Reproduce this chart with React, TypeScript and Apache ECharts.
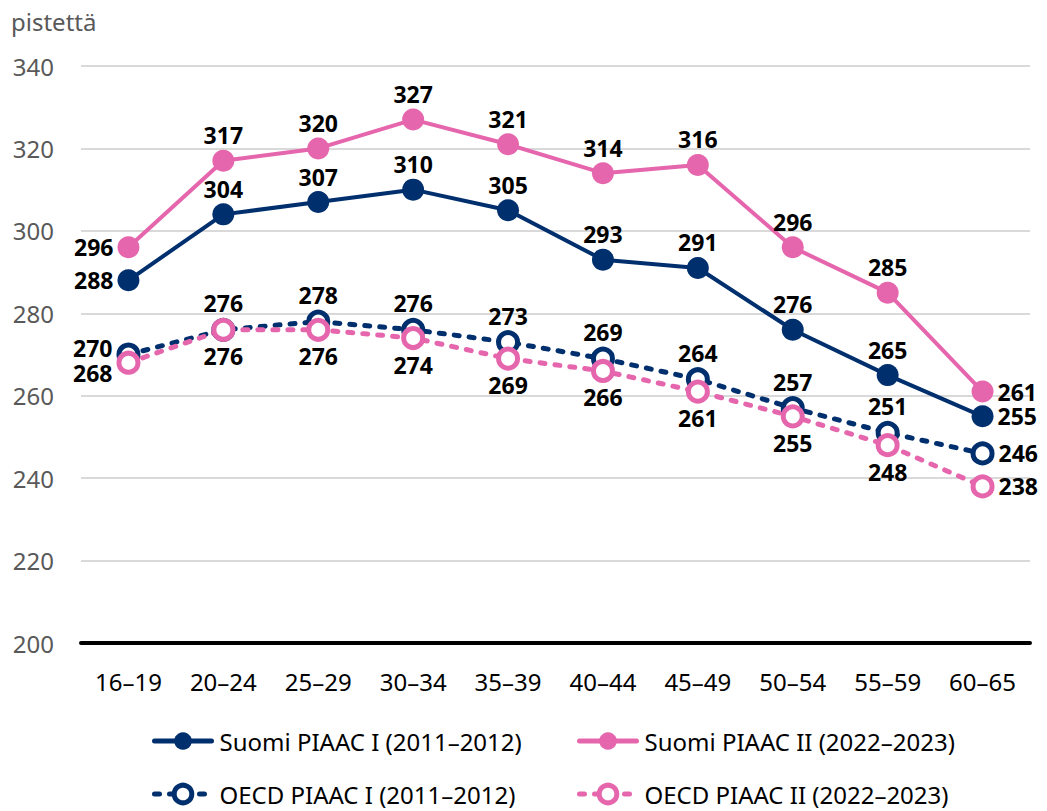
import React, { useEffect, useRef } from "react";
import * as echarts from "echarts";

const categories = ["16–19", "20–24", "25–29", "30–34", "35–39", "40–44", "45–49", "50–54", "55–59", "60–65"];
const suomiI = [288, 304, 307, 310, 305, 293, 291, 276, 265, 255];
const suomiII = [296, 317, 320, 327, 321, 314, 316, 296, 285, 261];
const oecdI = [270, 276, 278, 276, 273, 269, 264, 257, 251, 246];
const oecdII = [268, 276, 276, 274, 269, 266, 261, 255, 248, 238];
const seriesNames = [
  "Suomi PIAAC I (2011–2012)",
  "Suomi PIAAC II (2022–2023)",
  "OECD PIAAC I (2011–2012)",
  "OECD PIAAC II (2022–2023)",
];
const yTicks = { min: 200, max: 340, interval: 20 };

const NAVY = "#002f6e";
const PINK = "#e566ac";
const FONT = "'Noto Sans', 'Open Sans', sans-serif";
const DASH = [5, 10];

function makeData(values: number[], midPos: string, firstDy: number) {
  return values.map((v, i) => {
    const pos = i === 0 ? "left" : i === values.length - 1 ? "right" : midPos;
    return {
      value: v,
      label: i === 0 ? { position: pos, offset: [0, firstDy] } : { position: pos },
    };
  });
}

function makeSeries(name: string, values: number[], color: string, dashed: boolean, midPos: string, firstDy: number) {
  return {
    name,
    type: "line",
    data: makeData(values, midPos, firstDy),
    symbol: "circle",
    symbolSize: dashed ? 19 : 22,
    showAllSymbol: true,
    lineStyle: dashed
      ? { color, width: 5, type: DASH, cap: "round" }
      : { color, width: 4 },
    itemStyle: dashed
      ? { color: "#ffffff", borderColor: color, borderWidth: 5 }
      : { color, borderWidth: 0 },
    label: {
      show: true,
      distance: 4,
      color: "#000",
      fontFamily: FONT,
      fontWeight: "bold",
      fontSize: 23,
      lineHeight: 21,
    },
    emphasis: { disabled: true },
  };
}

function legendAt(name: string, left: number, top: number, color: string, dashed: boolean) {
  return {
    data: [name],
    left,
    top,
    padding: 0,
    orient: "horizontal",
    itemWidth: 57,
    itemHeight: 22,
    selectedMode: false,
    lineStyle: dashed
      ? { color, width: 5, type: DASH, cap: "round" }
      : { color, width: 5, cap: "round" },
    itemStyle: dashed
      ? { color: "#ffffff", borderColor: color, borderWidth: 5 }
      : { color, borderWidth: 0 },
    textStyle: {
      fontFamily: FONT,
      fontSize: 24,
      lineHeight: 24,
      color: "#000",
      padding: [0, 0, 0, 3],
    },
  };
}

export default function App() {
  const ref = useRef<HTMLDivElement>(null);
  useEffect(() => {
    document.body.style.margin = "0";
    if (!ref.current) return;
    const chart = echarts.init(ref.current, null, { renderer: "svg" });
    chart.setOption({
      animation: false,
      backgroundColor: "#fff",
      grid: { left: 81, right: 17, top: 66, bottom: 168, containLabel: false },
      graphic: [
        {
          type: "text",
          left: 11,
          top: 9,
          style: { text: "pistettä", fontFamily: FONT, fontSize: 24, fill: "#595959" },
        },
      ],
      legend: [
        legendAt(seriesNames[0], 152, 729, NAVY, false),
        legendAt(seriesNames[1], 577, 729, PINK, false),
        legendAt(seriesNames[2], 152, 782, NAVY, true),
        legendAt(seriesNames[3], 577, 782, PINK, true),
      ],
      xAxis: {
        type: "category",
        data: categories,
        boundaryGap: true,
        axisLine: { show: true, lineStyle: { color: "#000", width: 4 } },
        axisTick: { show: false },
        axisLabel: { color: "#000", fontFamily: FONT, fontSize: 24, margin: 26 },
      },
      yAxis: {
        type: "value",
        min: yTicks.min,
        max: yTicks.max,
        interval: yTicks.interval,
        axisLine: { show: false },
        axisTick: { show: false },
        axisLabel: {
          color: "#595959",
          fontFamily: FONT,
          fontSize: 24,
          margin: 27,
          align: "right",
        },
        splitLine: { lineStyle: { color: "#d9d9d9", width: 2 } },
      },
      series: [
        makeSeries(seriesNames[0], suomiI, NAVY, false, "top", 0),
        makeSeries(seriesNames[1], suomiII, PINK, false, "top", 0),
        makeSeries(seriesNames[2], oecdI, NAVY, true, "top", -7),
        makeSeries(seriesNames[3], oecdII, PINK, true, "bottom", 10),
      ],
    });
    return () => chart.dispose();
  }, []);
  return <div ref={ref} style={{ width: 1047, height: 811 }} />;
}
